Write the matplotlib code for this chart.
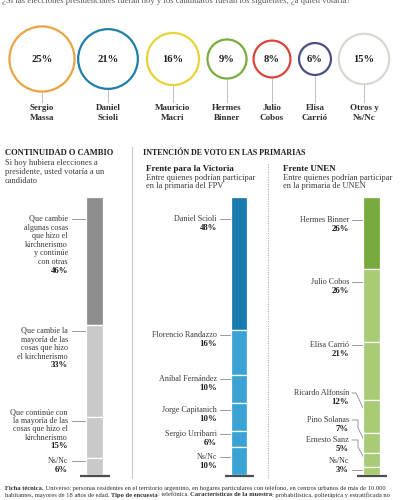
import numpy as np
import matplotlib.pyplot as plt

plt.rcParams['font.family'] = ['Liberation Serif', 'DejaVu Serif']

W, H = 400, 500

# --- data ---------------------------------------------------------------
cand_first = ['Sergio', 'Daniel', 'Mauricio', 'Hermes', 'Julio', 'Elisa', 'Otros y']
cand_last = ['Massa', 'Scioli', 'Macri', 'Binner', 'Cobos', 'Carrió', 'Ns/Nc']
cand_values = [25, 21, 16, 9, 8, 6, 15]
cand_colors = ['#e9a443', '#1f7fa9', '#e6d43a', '#7aab3f', '#d8453c', '#4b4f85', '#d9d8d0']

cambio_labels = [
    ['Que cambie', 'algunas cosas', 'que hizo el', 'kirchnerismo', 'y continúe', 'con otras'],
    ['Que cambie la', 'mayoría de las', 'cosas que hizo', 'el kirchnerismo'],
    ['Que continúe con', 'la mayoría de las', 'cosas que hizo el', 'kirchnerismo'],
    ['Ns/Nc'],
]
cambio_values = [46, 33, 15, 6]

fpv_labels = ['Daniel Scioli', 'Florencio Randazzo', 'Aníbal Fernández',
              'Jorge Capitanich', 'Sergio Urribarri', 'Ns/Nc']
fpv_values = [48, 16, 10, 10, 6, 10]

unen_labels = ['Hermes Binner', 'Julio Cobos', 'Elisa Carrió', 'Ricardo Alfonsín',
               'Pino Solanas', 'Ernesto Sanz', 'Ns/Nc']
unen_values = [26, 26, 21, 12, 7, 5, 3]

# --- layout -------------------------------------------------------------
circle_x = [42, 108, 173, 227, 272, 315, 364]
circle_y = 59
BODY = '#3a3a3a'
DARK = '#1e1e1e'

fig = plt.figure(figsize=(4, 5), dpi=100)
bg = fig.add_axes([0, 0, 1, 1])
bg.set_xlim(0, W)
bg.set_ylim(H, 0)
bg.axis('off')


def lines_at(x, y0, lines, dy, ha='right', bold_last=True, size=5.9):
    for i, s in enumerate(lines):
        last = bold_last and i == len(lines) - 1
        bg.text(x, y0 + i * dy, s, ha=ha, va='center', fontsize=size + (0.4 if last else 0),
                fontweight='bold' if last else 'normal', color=DARK if last else BODY)


# cut question line at the very top
bg.text(2, 1, '¿Si las elecciones presidenciales fueran hoy y los candidatos fueran los siguientes, ¿a quién votaría?',
        ha='left', va='center', fontsize=6.2, color='#555555')

# circles: marker area proportional to the value
k = 88.0
bg.scatter(circle_x, [circle_y] * len(cand_values), s=np.array(cand_values) * k,
           facecolors='white', edgecolors=cand_colors, linewidths=1.6, zorder=3)
for x, v, a, b in zip(circle_x, cand_values, cand_first, cand_last):
    r = np.sqrt(v * k) / 2 * 100 / 72
    bg.plot([x, x], [circle_y + r + 1, 102], color='#b5b5b5', lw=0.6, zorder=2)
    bg.text(x, circle_y, f'{v}%', ha='center', va='center', fontsize=7.6,
            fontweight='bold', color=DARK, zorder=4)
    bg.text(x, 108.5, a, ha='center', va='center', fontsize=6.5, fontweight='bold', color='#2e2e2e')
    bg.text(x, 117.5, b, ha='center', va='center', fontsize=6.5, fontweight='bold', color='#2e2e2e')

# section headings
bg.text(5, 153, 'CONTINUIDAD O CAMBIO', ha='left', va='center', fontsize=6.1,
        fontweight='bold', color=DARK)
lines_at(5, 163, ['Si hoy hubiera elecciones a', 'presidente, usted votaría a un', 'candidato'],
         9, ha='left', bold_last=False, size=6.0)
bg.text(143, 153, 'INTENCIÓN DE VOTO EN LAS PRIMARIAS', ha='left', va='center', fontsize=5.8,
        fontweight='bold', color=DARK)
bg.text(146, 169, 'Frente para la Victoria', ha='left', va='center', fontsize=6.5,
        fontweight='bold', color=DARK)
lines_at(146, 178, ['Entre quienes podrían participar', 'en la primaria del FPV'],
         8.5, ha='left', bold_last=False, size=6.0)
bg.text(283, 169, 'Frente UNEN', ha='left', va='center', fontsize=6.5,
        fontweight='bold', color=DARK)
lines_at(283, 178, ['Entre quienes podrían participar', 'en la primaria de UNEN'],
         8.5, ha='left', bold_last=False, size=6.0)

# separators
bg.plot([132, 132], [147, 478], color='#c8c8c8', lw=0.8)
bg.plot([268, 268], [164, 478], color='#b0b0b0', lw=0.8, ls=(0, (1, 1.2)))

BAR_TOP, BAR_BOT = 197, 475


def stacked(x_left, width, values, colors):
    ax = fig.add_axes([x_left / W, 1 - BAR_BOT / H, width / W, (BAR_BOT - BAR_TOP) / H])
    ax.set_xlim(-0.5, 0.5)
    ax.set_ylim(0, sum(values))
    ax.axis('off')
    bottoms = sum(values) - np.cumsum(values)
    ax.bar([0] * len(values), values, bottom=bottoms, width=1.0, color=colors,
           edgecolor='white', linewidth=0.9)
    bg.plot([x_left - 6, x_left + width + 7], [BAR_BOT + 1, BAR_BOT + 1],
            color='#4d4d4d', lw=1.6, solid_capstyle='butt')
    return ax


# continuidad o cambio
stacked(86, 17, cambio_values, ['#8e8e8e', '#c9c9c9', '#c9c9c9', '#c9c9c9'])
cambio_y0 = [219, 331, 412, 461]
cambio_lead = [0, 0, 1, 0]
for lab, v, y0, li in zip(cambio_labels, cambio_values, cambio_y0, cambio_lead):
    lines_at(68, y0, lab + [f'{v}%'], 8.6)
    bg.plot([72, 86], [y0 + li * 8.6] * 2, color='#8a8a8a', lw=0.6)

# frente para la victoria
stacked(231, 16, fpv_values, ['#1b7bae'] + ['#3ba3d3'] * 5)
fpv_y0 = [219, 335, 379, 410, 434, 457]
for lab, v, y0 in zip(fpv_labels, fpv_values, fpv_y0):
    lines_at(217, y0, [lab, f'{v}%'], 9)
    bg.plot([220, 231], [y0, y0], color='#8a8a8a', lw=0.6)

# frente unen
stacked(363, 17, unen_values, ['#77ab3d'] + ['#a9cb74'] * 6)
unen_y0 = [220, 282, 345, 393, 420, 440, 461]
unen_paths = [
    ([352, 363], [220, 220]),
    ([352, 363], [282, 282]),
    ([352, 363], [345, 345]),
    ([352, 356, 364], [393, 393, 410]),
    ([352, 358, 358, 364], [420, 420, 428, 440]),
    ([352, 358, 358, 364], [440, 440, 447, 458]),
    ([352, 363], [470, 470]),
]
for lab, v, y0, (px, py) in zip(unen_labels, unen_values, unen_y0, unen_paths):
    lines_at(349, y0, [lab, f'{v}%'], 9)
    bg.plot(px, py, color='#8a8a8a', lw=0.6)

# footnote with bold runs
renderer = fig.canvas.get_renderer()


def rich(x, y, runs, size=4.65):
    for s, b in runs:
        t = bg.text(x, y, s, ha='left', va='center', fontsize=size,
                    fontweight='bold' if b else 'normal', color='#2e2e2e')
        x += t.get_window_extent(renderer).width


rich(5, 488, [('Ficha técnica.', True), (' Universo:', False),
              (' personas residentes en el territorio argentino, en hogares particulares con teléfono, en centros urbanos de más de 10.000', False)])
rich(5, 495, [('habitantes, mayores de 18 años de edad. ', False), ('Tipo de encuesta', True),
              (': telefónica. ', False), ('Características de la muestra', True),
              (': probabilística, polietápica y estratificada no', False)])

fig.savefig('out.png', dpi=100, facecolor='white')
